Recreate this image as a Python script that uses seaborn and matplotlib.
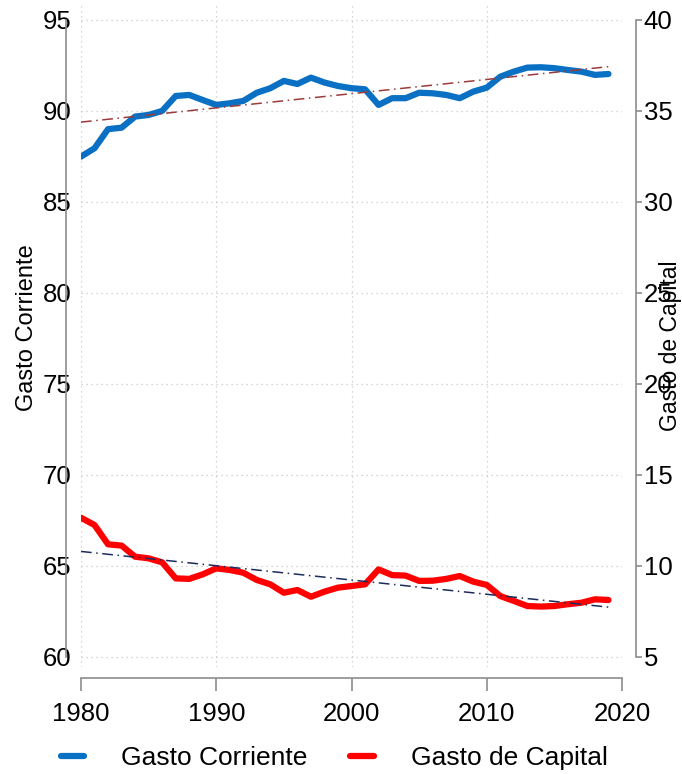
import numpy as np
import pandas as pd
import seaborn as sns
import matplotlib.pyplot as plt

# values
years = list(range(1980, 2020))
gasto_corriente = [87.49, 87.95, 89.0, 89.08, 89.69, 89.78, 90.0, 90.82, 90.88, 90.6,
                   90.33, 90.42, 90.55, 91.0, 91.25, 91.65, 91.48, 91.83, 91.56, 91.37,
                   91.25, 91.19, 90.33, 90.7, 90.7, 91.0, 90.97, 90.88, 90.7, 91.06,
                   91.28, 91.88, 92.16, 92.38, 92.4, 92.35, 92.25, 92.16, 91.98, 92.03]
gasto_capital = [12.65, 12.25, 11.19, 11.12, 10.51, 10.42, 10.2, 9.32, 9.29, 9.54,
                 9.87, 9.78, 9.63, 9.23, 8.99, 8.53, 8.68, 8.31, 8.59, 8.81,
                 8.9, 8.99, 9.81, 9.5, 9.47, 9.18, 9.19, 9.29, 9.45, 9.14,
                 8.96, 8.35, 8.08, 7.8, 7.77, 7.8, 7.9, 7.98, 8.17, 8.13]
left_ticks = [60, 65, 70, 75, 80, 85, 90, 95]
right_ticks = [5, 10, 15, 20, 25, 30, 35, 40]
x_ticks = [1980, 1990, 2000, 2010, 2020]

df = pd.DataFrame({"year": years, "corriente": gasto_corriente, "capital": gasto_capital})

sns.set_style("white")
plt.rcParams['font.family'] = ['Liberation Sans', 'DejaVu Sans']
plt.rcParams['text.color'] = 'black'

blue = "#0A70C4"
red = "#FF0000"
spine_col = "#8C8C8C"

fig = plt.figure(figsize=(6.82, 7.74), dpi=100)
ax = fig.add_axes([81 / 682, 107 / 774, 541 / 682, 662 / 774])
ax2 = ax.twinx()

sns.lineplot(data=df, x="year", y="corriente", ax=ax, color=blue, lw=4.5, legend=False)
sns.lineplot(data=df, x="year", y="capital", ax=ax2, color=red, lw=4.5, legend=False)

# linear trends
c1 = np.polyfit(df["year"], df["corriente"], 1)
c2 = np.polyfit(df["year"], df["capital"], 1)
ax.plot(df["year"], np.polyval(c1, df["year"]), color="#9B3B3B", lw=1.1, ls=(0, (7, 3, 1, 3)))
ax2.plot(df["year"], np.polyval(c2, df["year"]), color="#1C2B5C", lw=1.1, ls=(0, (7, 3, 1, 3)))

ax.set_xlim(1980, 2020)
ax.set_ylim(59.45, 95.82)
ax2.set_ylim(4.45, 40.82)
ax.set_xticks(x_ticks)
ax.set_yticks(left_ticks)
ax2.set_yticks(right_ticks)

ax.grid(True, color="#C8C8C8", lw=0.9, ls=(0, (1, 3)))
ax2.grid(False)

for a in (ax, ax2):
    a.spines['top'].set_visible(False)
ax.spines['right'].set_visible(False)
ax2.spines['left'].set_visible(False)
ax2.spines['bottom'].set_visible(False)

ax.spines['left'].set_position(('outward', 11))
ax.spines['left'].set_bounds(60, 95)
ax.spines['bottom'].set_position(('outward', 8))
ax.spines['bottom'].set_bounds(1980, 2020)
ax2.spines['right'].set_position(('outward', 10))
ax2.spines['right'].set_bounds(5, 40)
for sp in (ax.spines['left'], ax.spines['bottom'], ax2.spines['right']):
    sp.set_color(spine_col)
    sp.set_linewidth(1.2)

ax.tick_params(axis='y', length=0, pad=-4, labelsize=18.5, labelcolor='black')
ax.tick_params(axis='x', length=9, width=1.2, color=spine_col, pad=8, labelsize=18.5,
               labelcolor='black', bottom=True)
ax2.tick_params(axis='y', length=4.5, width=1.2, color=spine_col, pad=1, labelsize=18.5,
                labelcolor='black', right=True)

ax.set_xlabel("")
ax.set_ylabel("Gasto Corriente", fontsize=17, va='center', ha='center', color='black')
ax.yaxis.set_label_coords(-0.10, 0.512)
ax2.set_ylabel("Gasto de Capital", fontsize=16.5, va='center', ha='center', rotation=90,
               color='black')
ax2.yaxis.set_label_coords(1.09, 0.486)

handles = [ax.get_lines()[0], ax2.get_lines()[0]]
fig.legend(handles, ["Gasto Corriente", "Gasto de Capital"], loc='lower center',
           bbox_to_anchor=(0.49, -0.026), ncol=2, frameon=False, fontsize=19,
           handlelength=0.9, handletextpad=1.4, columnspacing=1.6)

fig.savefig("out.png", dpi=100)
